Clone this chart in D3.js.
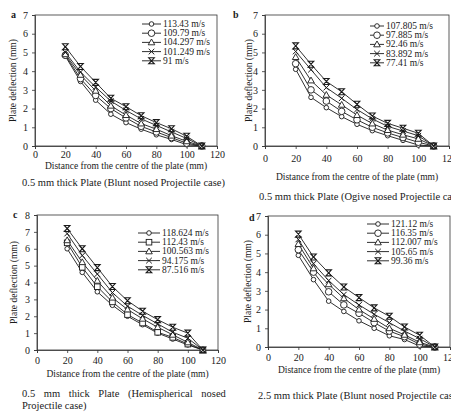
<!DOCTYPE html>
<html>
<head>
<meta charset="utf-8">
<script src="https://d3js.org/d3.v7.min.js"></script>
<style>
  body { margin: 0; background: #fff; }
  svg { display: block; font-family: "Liberation Serif", "DejaVu Serif", serif; }
</style>
</head>
<body>
<script>
var width = 451, height = 414;

// distanza dal centro (mm), uguale per tutti i pannelli
var distance = [20, 30, 40, 50, 60, 70, 80, 90, 100, 110];

// pannello a - Blunt, 0.5 mm
var speedsA = ["113.43 m/s", "109.79 m/s", "104.297 m/s", "101.249 m/s", "91 m/s"];
var defA1 = [4.8, 3.45, 2.45, 1.7, 1.25, 0.9, 0.6, 0.35, 0.07, 0];
var defA2 = [4.85, 3.6, 2.7, 2.0, 1.5, 1.05, 0.75, 0.45, 0.15, 0];
var defA3 = [4.9, 3.8, 2.95, 2.15, 1.65, 1.2, 0.9, 0.55, 0.25, 0];
var defA4 = [5.0, 3.95, 3.15, 2.4, 1.9, 1.45, 1.1, 0.75, 0.4, 0];
var defA5 = [5.3, 4.25, 3.4, 2.55, 2.1, 1.62, 1.25, 0.92, 0.52, 0];

// pannello b - Ogive, 0.5 mm
var speedsB = ["107.805 m/s", "97.885 m/s", "92.46 m/s", "83.892 m/s", "77.41 m/s"];
var defB1 = [4.1, 2.6, 2.05, 1.57, 1.16, 0.82, 0.55, 0.3, 0.05, 0];
var defB2 = [4.4, 3.0, 2.4, 1.85, 1.4, 1.0, 0.7, 0.45, 0.2, 0];
var defB3 = [4.75, 3.5, 2.73, 2.2, 1.65, 1.2, 0.85, 0.6, 0.38, 0];
var defB4 = [5.05, 4.08, 3.12, 2.55, 1.95, 1.45, 1.05, 0.8, 0.55, 0];
var defB5 = [5.35, 4.37, 3.45, 2.9, 2.23, 1.6, 1.21, 0.95, 0.68, 0];

// pannello c - Hemispherical, 0.5 mm
var speedsC = ["118.624 m/s", "112.43 m/s", "100.563 m/s", "94.175 m/s", "87.516 m/s"];
var defC1 = [6.0, 4.6, 3.45, 2.65, 2.0, 1.5, 1.0, 0.65, 0.3, 0];
var defC2 = [6.35, 4.9, 3.75, 2.85, 2.1, 1.6, 1.05, 0.75, 0.35, 0];
var defC3 = [6.5, 5.2, 4.1, 3.1, 2.4, 1.85, 1.35, 0.9, 0.45, 0];
var defC4 = [6.9, 5.6, 4.5, 3.4, 2.6, 2.05, 1.55, 1.05, 0.7, 0];
var defC5 = [7.2, 6.0, 4.88, 3.76, 2.92, 2.3, 1.8, 1.35, 1.0, 0];

// pannello d - Blunt, 2.5 mm
var speedsD = ["121.12 m/s", "116.35 m/s", "112.007 m/s", "105.65 m/s", "99.36 m/s"];
var defD1 = [4.9, 3.6, 2.45, 1.9, 1.4, 1.0, 0.6, 0.4, 0.05, 0];
var defD2 = [5.2, 4.0, 2.95, 2.25, 1.8, 1.3, 0.85, 0.55, 0.15, 0];
var defD3 = [5.5, 4.2, 3.35, 2.6, 2.0, 1.5, 1.0, 0.65, 0.25, 0];
var defD4 = [5.75, 4.45, 3.55, 2.8, 2.25, 1.75, 1.3, 0.85, 0.45, 0];
var defD5 = [6.03, 4.81, 3.96, 3.21, 2.64, 2.09, 1.64, 1.07, 0.63, 0];

var xTicks = [0, 20, 40, 60, 80, 100, 120];

var ink = "#1a1a1a";

var svg = d3.select("body").append("svg")
    .attr("width", width)
    .attr("height", height)
    .style("background", "#fff");

// forma dei marcatori: piccolo cerchio, cerchio, quadrato, triangolo, x, clessidra
function marker(g, kind, x, y) {
  if (kind == "o") {
    g.append("circle").attr("cx", x).attr("cy", y).attr("r", 2.3)
      .attr("fill", "#fff").attr("stroke", ink).attr("stroke-width", 0.9);
  } else if (kind == "O") {
    g.append("circle").attr("cx", x).attr("cy", y).attr("r", 3.3)
      .attr("fill", "#fff").attr("stroke", ink).attr("stroke-width", 0.9);
  } else if (kind == "s") {
    g.append("rect").attr("x", x - 2.8).attr("y", y - 2.8).attr("width", 5.6).attr("height", 5.6)
      .attr("fill", "#fff").attr("stroke", ink).attr("stroke-width", 0.9);
  } else if (kind == "t") {
    g.append("path").attr("d", "M" + x + "," + (y - 3.4) + " L" + (x + 3.3) + "," + (y + 2.4) + " L" + (x - 3.3) + "," + (y + 2.4) + " Z")
      .attr("fill", "#fff").attr("stroke", ink).attr("stroke-width", 0.9);
  } else if (kind == "x") {
    g.append("path").attr("d", "M" + (x - 2.8) + "," + (y - 2.8) + " L" + (x + 2.8) + "," + (y + 2.8) + " M" + (x + 2.8) + "," + (y - 2.8) + " L" + (x - 2.8) + "," + (y + 2.8))
      .attr("fill", "none").attr("stroke", ink).attr("stroke-width", 1);
  } else {
    g.append("path").attr("d", "M" + (x - 2.8) + "," + (y - 3) + " L" + (x + 2.8) + "," + (y - 3) + " L" + (x - 2.8) + "," + (y + 3) + " L" + (x + 2.8) + "," + (y + 3) + " Z")
      .attr("fill", "none").attr("stroke", ink).attr("stroke-width", 1.1);
  }
}

function drawPanel(p) {
  var g = svg.append("g");

  var x = d3.scaleLinear().domain([0, 120]).range([p.left, p.right]);
  var y = d3.scaleLinear().domain([0, p.ymax]).range([p.bottom, p.top]);

  // riquadro
  g.append("rect")
    .attr("x", p.left).attr("y", p.top)
    .attr("width", p.right - p.left).attr("height", p.bottom - p.top)
    .attr("fill", "none").attr("stroke", "#333").attr("stroke-width", 0.8);

  var xAxis = g.append("g").attr("transform", "translate(0," + p.bottom + ")")
    .call(d3.axisBottom(x).tickValues(xTicks).tickSize(3).tickPadding(p.xpad));
  var yAxis = g.append("g").attr("transform", "translate(" + p.left + ",0)")
    .call(d3.axisLeft(y).ticks(p.ymax).tickSize(3).tickPadding(4));
  [xAxis, yAxis].forEach(function (ax) {
    ax.select(".domain").attr("stroke", "#333").attr("stroke-width", 0.8);
    ax.selectAll(".tick line").attr("stroke", "#333").attr("stroke-width", 0.8);
    ax.selectAll("text").attr("fill", ink).style("font-family", "Liberation Serif").style("font-size", "10px");
  });

  var line = d3.line().x(function (d) { return x(d[0]); }).y(function (d) { return y(d[1]); });
  var kinds = p.kinds;

  p.series.forEach(function (vals, i) {
    var pts = distance.map(function (dd, k) { return [dd, vals[k]]; });
    g.append("path").datum(pts).attr("d", line)
      .attr("fill", "none").attr("stroke", ink).attr("stroke-width", 0.9);
  });
  p.series.forEach(function (vals, i) {
    distance.forEach(function (dd, k) { marker(g, kinds[i], x(dd), y(vals[k])); });
  });

  // legenda
  p.labels.forEach(function (lab, i) {
    var ly = p.legY + i * 9.2;
    g.append("line").attr("x1", p.legX).attr("x2", p.legX + p.legW).attr("y1", ly).attr("y2", ly)
      .attr("stroke", ink).attr("stroke-width", 0.9);
    marker(g, kinds[i], p.legX + p.legW / 2, ly);
    g.append("text").attr("x", p.legX + p.legW + 2).attr("y", ly + 3)
      .attr("fill", ink).style("font-size", "9.5px").text(lab);
  });

  // lettera del pannello
  g.append("text").attr("x", p.letter[0]).attr("y", p.letter[1])
    .attr("fill", ink).style("font-size", "10px").style("font-weight", "bold").text(p.name);

  // titoli degli assi
  g.append("text")
    .attr("transform", "translate(" + p.yTitleX + "," + ((p.top + p.bottom) / 2) + ") rotate(-90)")
    .attr("text-anchor", "middle").attr("fill", ink).style("font-size", "9.5px")
    .text("Plate deflection (mm)");
  g.append("text")
    .attr("x", (p.left + p.right) / 2).attr("y", p.xTitleY)
    .attr("text-anchor", "middle").attr("fill", ink).style("font-size", "9.5px")
    .text("Distance from the centre of the plate (mm)");

  // didascalia (solo la prima riga giustificata)
  p.caption.forEach(function (c, i) {
    g.append("text").attr("x", p.capX).attr("y", p.capY + i * 12)
      .attr("fill", ink).style("font-size", "10.5px")
      .style("word-spacing", (i == 0 && p.capSpace) ? p.capSpace : "0px").text(c);
  });
}

drawPanel({
  name: "a", letter: [11, 18],
  left: 35, right: 217, top: 15, bottom: 146, ymax: 7, xpad: 2,
  series: [defA1, defA2, defA3, defA4, defA5], kinds: ["o", "O", "t", "x", "z"], labels: speedsA,
  legX: 142, legW: 19, legY: 24,
  yTitleX: 16, xTitleY: 169,
  caption: ["0.5 mm thick Plate (Blunt nosed Projectile case)"], capX: 22, capY: 186
});

drawPanel({
  name: "b", letter: [233, 18],
  left: 265, right: 449, top: 15, bottom: 146, ymax: 7, xpad: 6,
  series: [defB1, defB2, defB3, defB4, defB5], kinds: ["o", "O", "t", "x", "z"], labels: speedsB,
  legX: 370, legW: 14, legY: 26,
  yTitleX: 252, xTitleY: 180,
  caption: ["0.5 mm thick Plate (Ogive nosed Projectile case)"], capX: 259, capY: 200
});

drawPanel({
  name: "c", letter: [13, 218],
  left: 37, right: 218, top: 215, bottom: 350, ymax: 8, xpad: 4,
  series: [defC1, defC2, defC3, defC4, defC5], kinds: ["o", "s", "t", "x", "z"], labels: speedsC,
  legX: 138, legW: 22, legY: 233,
  yTitleX: 17, xTitleY: 377,
  caption: ["0.5 mm thick Plate (Hemispherical nosed", "Projectile case)"], capX: 22, capY: 397, capSpace: "6px"
});

drawPanel({
  name: "d", letter: [249, 221],
  left: 268, right: 450, top: 216, bottom: 347, ymax: 7, xpad: 4,
  series: [defD1, defD2, defD3, defD4, defD5], kinds: ["o", "O", "t", "x", "z"], labels: speedsD,
  legX: 367, legW: 22, legY: 224,
  yTitleX: 251, xTitleY: 373,
  caption: ["2.5 mm thick Plate (Blunt nosed Projectile case)"], capX: 258, capY: 399
});
</script>
</body>
</html>
